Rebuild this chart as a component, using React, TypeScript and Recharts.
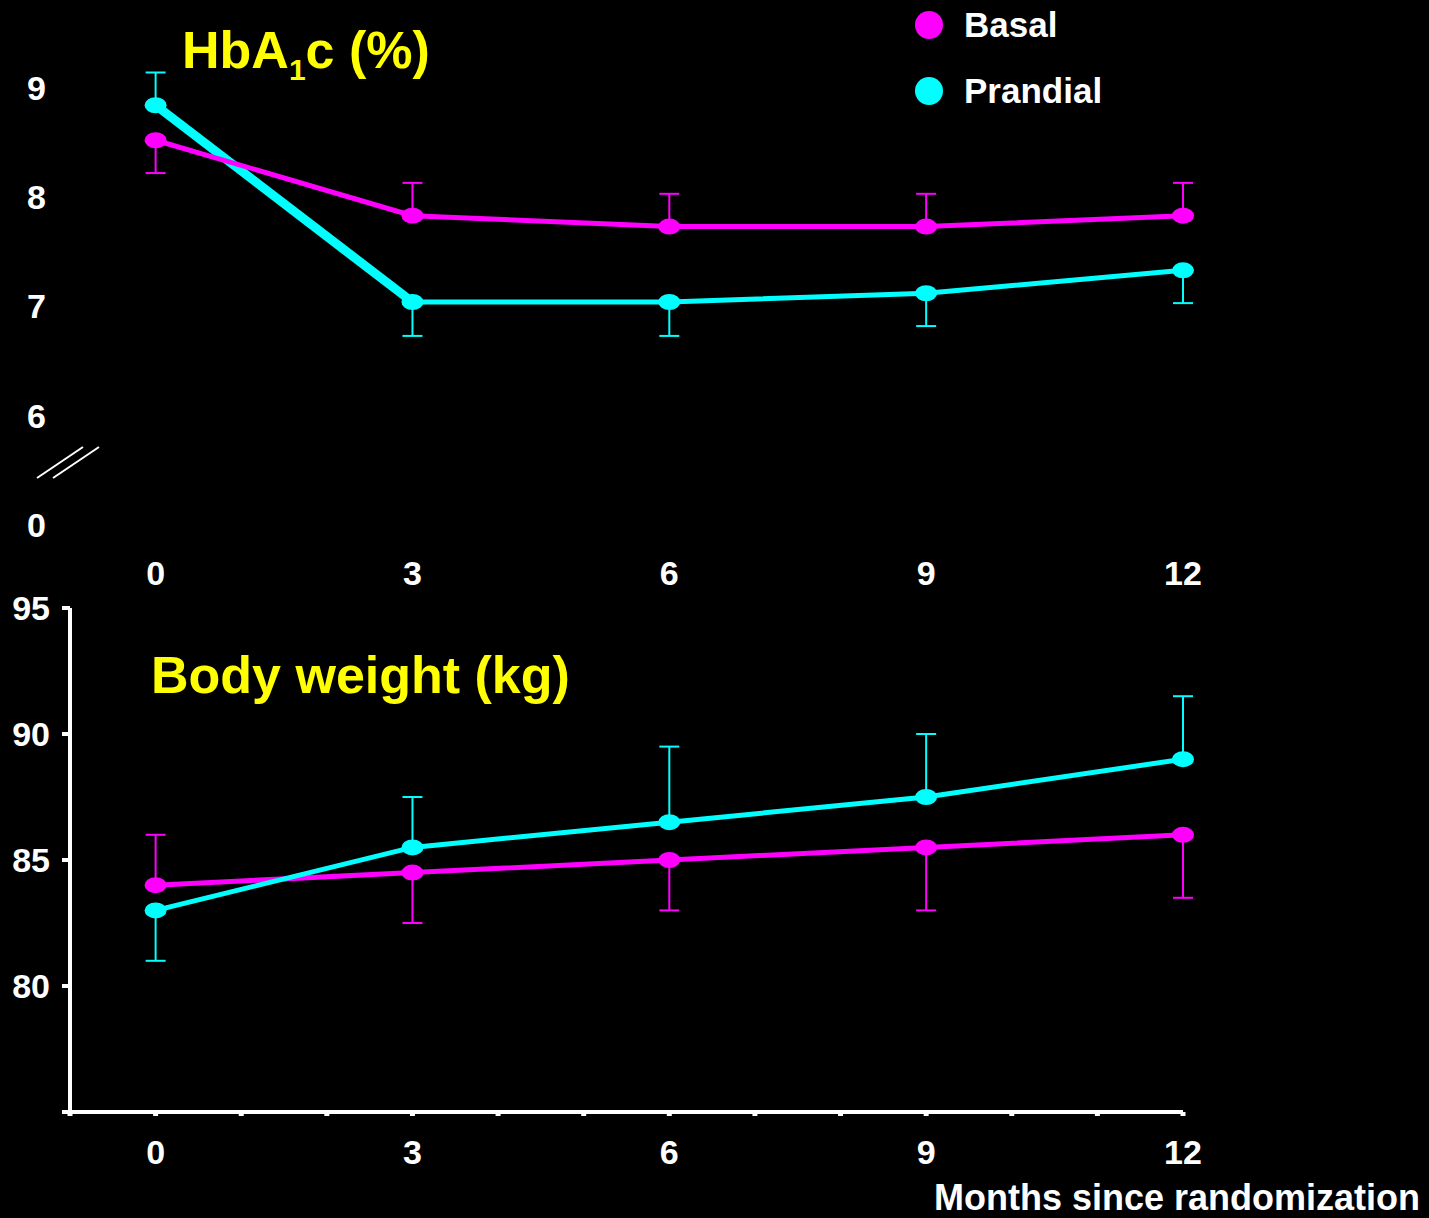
import React from 'react';
import { LineChart, Line, XAxis, YAxis, ErrorBar, Legend } from 'recharts';

const months = [0, 3, 6, 9, 12];
const hbBasal = [8.52, 7.83, 7.73, 7.73, 7.83];
const hbPrandial = [8.84, 7.04, 7.04, 7.12, 7.33];
const hbBasalErr = [[0.3, 0], [0, 0.3], [0, 0.3], [0, 0.3], [0, 0.3]];
const hbPrandialErr = [[0, 0.3], [0.31, 0], [0.31, 0], [0.3, 0], [0.3, 0]];
const wtBasal = [84, 84.5, 85, 85.5, 86];
const wtPrandial = [83, 85.5, 86.5, 87.5, 89];
const wtBasalErr = [[0, 2], [2, 0], [2, 0], [2.5, 0], [2.5, 0]];
const wtPrandialErr = [[2, 0], [0, 2], [0, 3], [0, 2.5], [0, 2.5]];
const hbYTicks = [5, 6, 7, 8, 9];
const wtYTicks = [75, 80, 85, 90, 95];
const monthTicks = [0, 3, 6, 9, 12];
const minorMonthTicks = [-1, 0, 1, 2, 3, 4, 5, 6, 7, 8, 9, 10, 11, 12];

const MAGENTA = '#FF00FF';
const CYAN = '#00FFFF';
const YELLOW = '#FFFF00';

const hbData = months.map((m, i) => ({
  month: m,
  basal: hbBasal[i],
  prandial: hbPrandial[i],
  prandialSeg: i < 2 ? hbPrandial[i] : null,
  basalErr: hbBasalErr[i],
  prandialErr: hbPrandialErr[i],
}));

const wtData = months.map((m, i) => ({
  month: m,
  basal: wtBasal[i],
  prandial: wtPrandial[i],
  basalErr: wtBasalErr[i],
  prandialErr: wtPrandialErr[i],
}));

const mkDot = (color: string) => (props: any) => {
  const { cx, cy, key, index } = props;
  if (cx == null || cy == null) return null;
  return <ellipse key={key ?? index} cx={cx} cy={cy} rx={11} ry={8} fill={color} />;
};

const HbTick = (props: any) => {
  const { x, y, payload } = props;
  const label = payload.value === 5 ? '0' : String(payload.value);
  return (
    <g>
      <text x={x} y={y} dy="0.355em" textAnchor="end" fill="#fff" fontSize={34} fontWeight="bold">
        {label}
      </text>
      {payload.value === 5 && (
        <g stroke="#fff" strokeWidth={2}>
          <line x1={x - 9} y1={y - 47} x2={x + 37} y2={y - 78} />
          <line x1={x + 7} y1={y - 47} x2={x + 53} y2={y - 78} />
        </g>
      )}
    </g>
  );
};

const LegendContent = (props: any) => {
  const items = (props.payload || []).filter((p: any) => p.dataKey === 'basal' || p.dataKey === 'prandial');
  const order = ['basal', 'prandial'];
  items.sort((a: any, b: any) => order.indexOf(a.dataKey) - order.indexOf(b.dataKey));
  return (
    <div>
      {items.map((p: any) => (
        <div key={p.dataKey} style={{ display: 'flex', alignItems: 'center', height: 50, marginBottom: 16 }}>
          <div style={{ width: 28, height: 28, borderRadius: 14, background: p.color }} />
          <span style={{ marginLeft: 21, color: '#fff', fontSize: 35, fontWeight: 'bold', lineHeight: '50px' }}>{p.value}</span>
        </div>
      ))}
    </div>
  );
};

export default function App() {
  return (
    <div
      style={{
        position: 'absolute',
        left: 0,
        top: 0,
        width: 1429,
        height: 1218,
        background: '#000',
        overflow: 'hidden',
        fontFamily: '"Liberation Sans", Arial, sans-serif',
        fontWeight: 'bold',
      }}
    >
      <div style={{ position: 'absolute', left: 0, top: 0 }}>
        <LineChart width={1429} height={600} data={hbData} margin={{ top: 55, right: 246, bottom: 0, left: 0 }}>
          <XAxis
            dataKey="month"
            type="number"
            domain={[-1, 12]}
            ticks={monthTicks}
            height={75}
            axisLine={false}
            tickLine={false}
            tickSize={34}
            tickMargin={2}
            tick={{ fill: '#fff', fontSize: 34, fontWeight: 'bold' }}
          />
          <YAxis
            type="number"
            domain={[5, 9.3]}
            ticks={hbYTicks}
            width={70}
            axisLine={false}
            tickLine={false}
            tickSize={22}
            tickMargin={2}
            tick={<HbTick />}
          />
          <Legend
            layout="horizontal"
            verticalAlign="middle"
            align="center"
            content={<LegendContent />}
            wrapperStyle={{ position: 'absolute', left: 915, top: 0, width: 300, height: 140 }}
          />
          <Line
            dataKey="prandialSeg"
            stroke={CYAN}
            strokeWidth={9}
            dot={false}
            activeDot={false}
            legendType="none"
            isAnimationActive={false}
          />
          <Line
            dataKey="prandial"
            name="Prandial"
            type="linear"
            stroke={CYAN}
            strokeWidth={5}
            dot={mkDot(CYAN)}
            activeDot={false}
            isAnimationActive={false}
          >
            <ErrorBar dataKey="prandialErr" direction="y" stroke={CYAN} strokeWidth={2} width={10} isAnimationActive={false} />
          </Line>
          <Line
            dataKey="basal"
            name="Basal"
            type="linear"
            stroke={MAGENTA}
            strokeWidth={5}
            dot={mkDot(MAGENTA)}
            activeDot={false}
            isAnimationActive={false}
          >
            <ErrorBar dataKey="basalErr" direction="y" stroke={MAGENTA} strokeWidth={2} width={10} isAnimationActive={false} />
          </Line>
        </LineChart>
      </div>

      <div style={{ position: 'absolute', left: 0, top: 580 }}>
        <LineChart width={1429} height={638} data={wtData} margin={{ top: 28, right: 246, bottom: 0, left: 0 }}>
          <XAxis
            dataKey="month"
            type="number"
            domain={[-1, 12]}
            ticks={minorMonthTicks}
            interval={0}
            height={106}
            axisLine={{ stroke: '#fff', strokeWidth: 4 }}
            tickLine={{ stroke: '#fff', strokeWidth: 5 }}
            tickSize={4}
            tickMargin={24}
            tickFormatter={(v: number) => (monthTicks.includes(v) ? String(v) : '')}
            tick={{ fill: '#fff', fontSize: 34, fontWeight: 'bold' }}
          />
          <YAxis
            type="number"
            domain={[75, 95]}
            ticks={wtYTicks}
            interval={0}
            width={70}
            axisLine={{ stroke: '#fff', strokeWidth: 4 }}
            tickLine={{ stroke: '#fff', strokeWidth: 4 }}
            tickSize={8}
            tickMargin={12}
            tickFormatter={(v: number) => (v === 75 ? '' : String(v))}
            tick={{ fill: '#fff', fontSize: 34, fontWeight: 'bold' }}
          />
          <Line
            dataKey="basal"
            name="Basal"
            type="linear"
            stroke={MAGENTA}
            strokeWidth={5}
            dot={mkDot(MAGENTA)}
            activeDot={false}
            isAnimationActive={false}
          >
            <ErrorBar dataKey="basalErr" direction="y" stroke={MAGENTA} strokeWidth={2} width={10} isAnimationActive={false} />
          </Line>
          <Line
            dataKey="prandial"
            name="Prandial"
            type="linear"
            stroke={CYAN}
            strokeWidth={5}
            dot={mkDot(CYAN)}
            activeDot={false}
            isAnimationActive={false}
          >
            <ErrorBar dataKey="prandialErr" direction="y" stroke={CYAN} strokeWidth={2} width={10} isAnimationActive={false} />
          </Line>
        </LineChart>
      </div>

      <svg
        width={1429}
        height={1218}
        style={{ position: 'absolute', left: 0, top: 0, pointerEvents: 'none' }}
      >
        <text x={182} y={68} fill={YELLOW} fontSize={52} fontWeight="bold">
          HbA
          <tspan fontSize={30} dy={12}>1</tspan>
          <tspan dy={-12}>c (%)</tspan>
        </text>
        <text x={151} y={693} fill={YELLOW} fontSize={52} fontWeight="bold">
          Body weight (kg)
        </text>
        <text x={1420} y={1210} fill="#fff" fontSize={36} fontWeight="bold" textAnchor="end">
          Months since randomization
        </text>
      </svg>
    </div>
  );
}
